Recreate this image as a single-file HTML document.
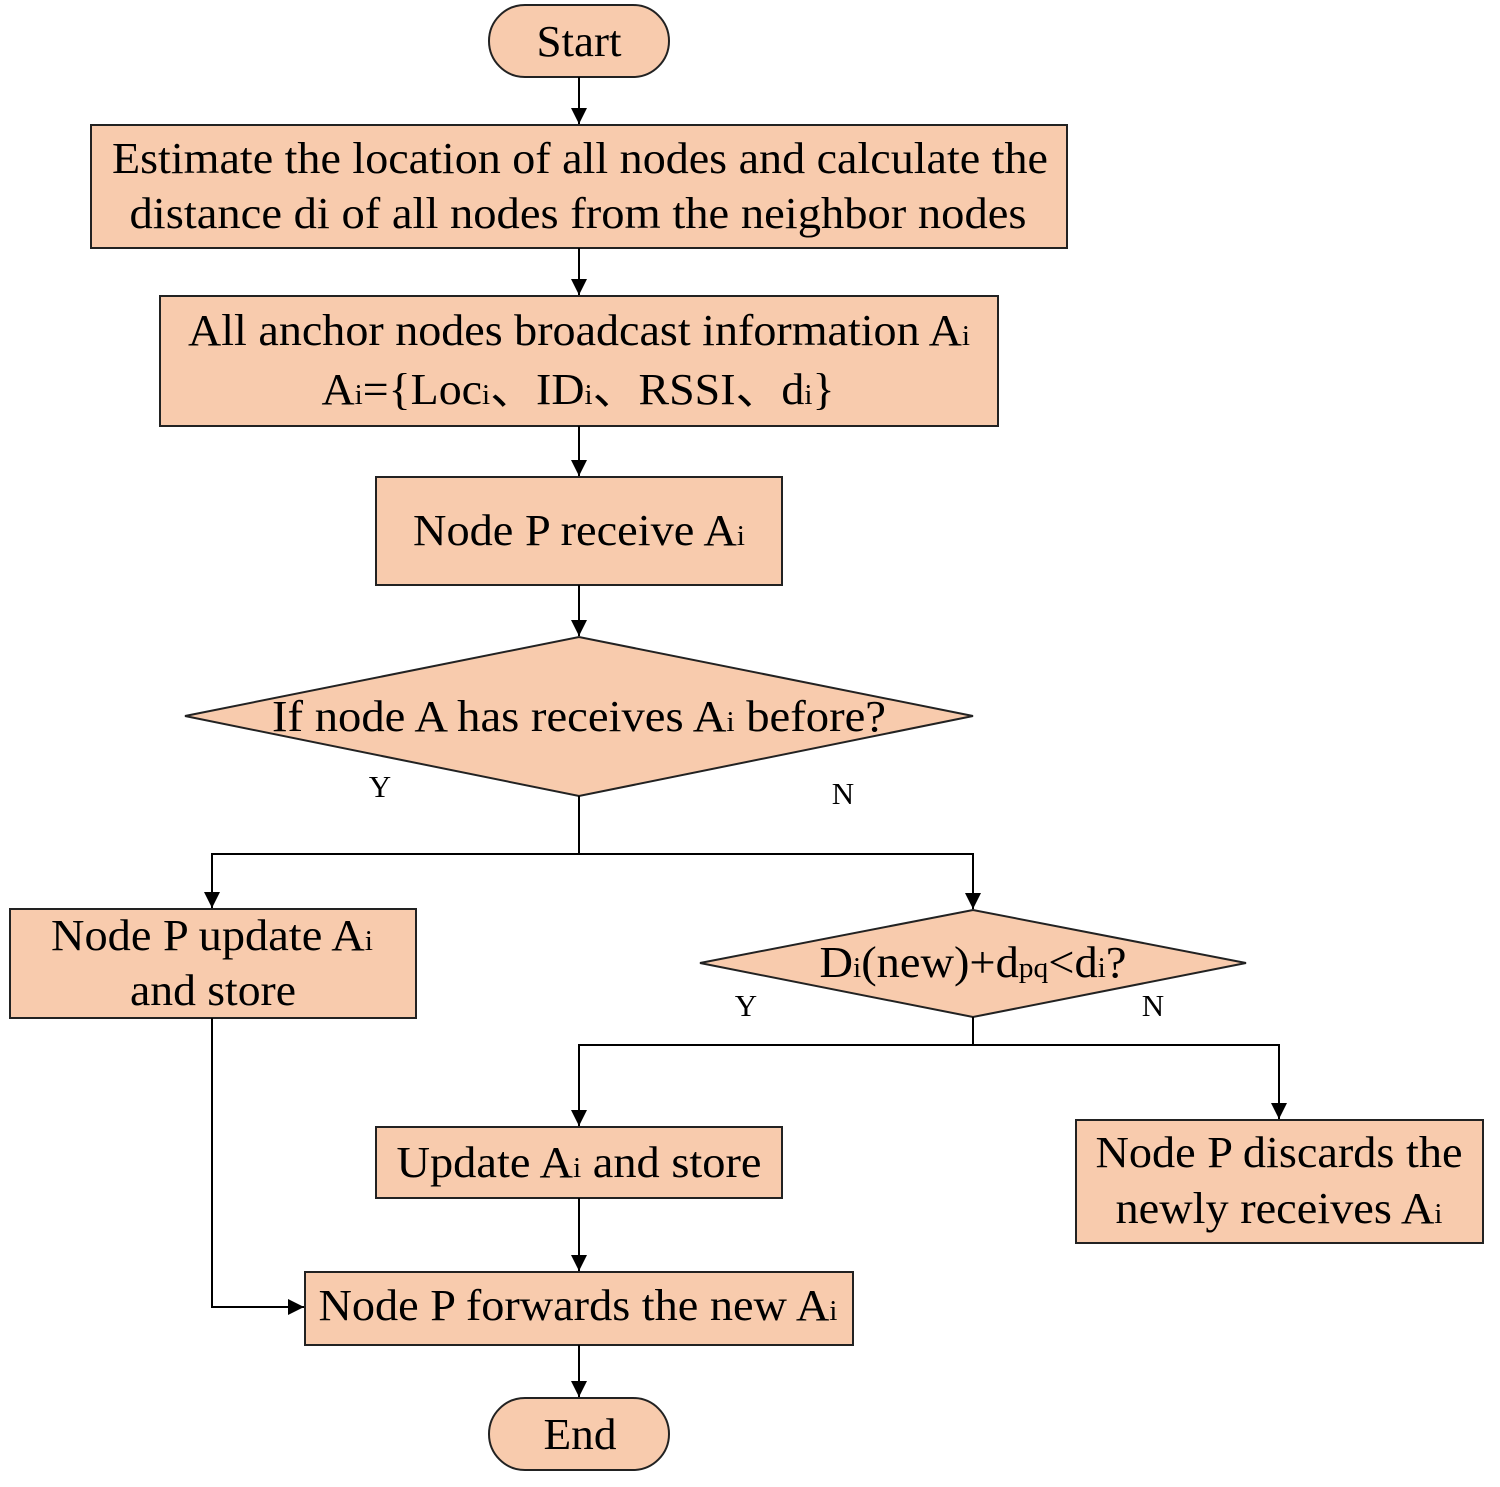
<!DOCTYPE html>
<html><head><meta charset="utf-8"><style>
html,body{margin:0;padding:0;background:#fff}
svg{display:block}
text{font-family:"Liberation Serif",serif;fill:#000}
.s{font-size:28px}
</style></head><body>
<svg width="1500" height="1487" viewBox="0 0 1500 1487" xmlns="http://www.w3.org/2000/svg">
<defs>
<marker id="a" viewBox="0 0 10 10" refX="10" refY="5" markerWidth="16" markerHeight="16" markerUnits="userSpaceOnUse" orient="auto"><path d="M0,0 L10,5 L0,10 z" fill="#000"/></marker>
</defs>
<g fill="#F8CBAD" stroke="#222" stroke-width="2">
<rect x="489" y="5" width="180" height="72" rx="36"/>
<rect x="91" y="125" width="976" height="123"/>
<rect x="160" y="296" width="838" height="130"/>
<rect x="376" y="477" width="406" height="108"/>
<polygon points="185,716 579,637 973,716 579,796"/>
<rect x="10" y="909" width="406" height="109"/>
<polygon points="700,963 973,910 1246,963 973,1017"/>
<rect x="376" y="1127" width="406" height="71"/>
<rect x="1076" y="1120" width="407" height="123"/>
<rect x="305" y="1272" width="548" height="73"/>
<rect x="489" y="1398" width="180" height="72" rx="36"/>
</g>
<g stroke="#000" stroke-width="2" fill="none">
<line x1="579" y1="77" x2="579" y2="124" marker-end="url(#a)"/>
<line x1="579" y1="248" x2="579" y2="295" marker-end="url(#a)"/>
<line x1="579" y1="426" x2="579" y2="476" marker-end="url(#a)"/>
<line x1="579" y1="585" x2="579" y2="636" marker-end="url(#a)"/>
<polyline points="579,796 579,854"/>
<polyline points="212,908 212,854 973,854 973,909"/>
<line x1="212" y1="880" x2="212" y2="908" marker-end="url(#a)"/>
<line x1="973" y1="880" x2="973" y2="909" marker-end="url(#a)"/>
<polyline points="973,1017 973,1045"/>
<polyline points="579,1126 579,1045 1279,1045 1279,1119"/>
<line x1="579" y1="1100" x2="579" y2="1126" marker-end="url(#a)"/>
<line x1="1279" y1="1090" x2="1279" y2="1119" marker-end="url(#a)"/>
<line x1="579" y1="1198" x2="579" y2="1271" marker-end="url(#a)"/>
<polyline points="212,1018 212,1307 304,1307" marker-end="url(#a)"/>
<line x1="579" y1="1345" x2="579" y2="1397" marker-end="url(#a)"/>
</g>
<g font-size="44" text-anchor="middle" lengthAdjust="spacingAndGlyphs">
<text x="579" y="56" textLength="85" lengthAdjust="spacingAndGlyphs">Start</text>
<text x="580" y="173" textLength="936" lengthAdjust="spacingAndGlyphs">Estimate the location of all nodes and calculate the</text>
<text x="578" y="228" textLength="897" lengthAdjust="spacingAndGlyphs">distance di of  all nodes from the neighbor nodes</text>
<text x="579" y="345" textLength="782" lengthAdjust="spacingAndGlyphs">All anchor nodes broadcast information A<tspan class="s">i</tspan></text>
<text x="578" y="404" textLength="513" lengthAdjust="spacingAndGlyphs">A<tspan class="s">i</tspan>={Loc<tspan class="s">i</tspan>、ID<tspan class="s">i</tspan>、RSSI、d<tspan class="s">i</tspan>}</text>
<text x="579" y="545" textLength="332" lengthAdjust="spacingAndGlyphs">Node P receive A<tspan class="s">i</tspan></text>
<text x="579" y="731" textLength="614" lengthAdjust="spacingAndGlyphs">If node A has receives A<tspan class="s">i</tspan> before?</text>
<text x="212" y="950" textLength="322" lengthAdjust="spacingAndGlyphs">Node P update A<tspan class="s">i</tspan></text>
<text x="213" y="1005" textLength="166" lengthAdjust="spacingAndGlyphs">and store</text>
<text x="973" y="977" textLength="307" lengthAdjust="spacingAndGlyphs">D<tspan class="s">i</tspan>(new)+d<tspan class="s">pq</tspan>&lt;d<tspan class="s">i</tspan>?</text>
<text x="579" y="1177" textLength="365" lengthAdjust="spacingAndGlyphs">Update A<tspan class="s">i</tspan> and store</text>
<text x="1279" y="1167" textLength="367" lengthAdjust="spacingAndGlyphs">Node P discards the</text>
<text x="1279" y="1223" textLength="327" lengthAdjust="spacingAndGlyphs">newly receives A<tspan class="s">i</tspan></text>
<text x="578" y="1320" textLength="519" lengthAdjust="spacingAndGlyphs">Node P forwards the new A<tspan class="s">i</tspan></text>
<text x="580" y="1449" textLength="73" lengthAdjust="spacingAndGlyphs">End</text>
</g>
<g font-size="31" text-anchor="middle">
<text x="380" y="797">Y</text>
<text x="843" y="804">N</text>
<text x="746" y="1016">Y</text>
<text x="1153" y="1016">N</text>
</g>
</svg>
</body></html>
